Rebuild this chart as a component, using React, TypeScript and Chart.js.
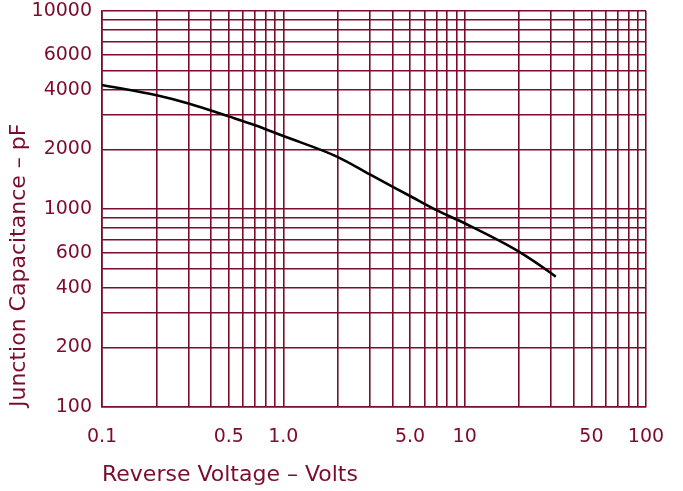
import React, { useEffect, useRef } from "react";
import { Chart, registerables } from "chart.js";

Chart.register(...registerables);

// Reverse voltage (V) and junction capacitance (pF)
const voltage = [0.1, 0.2, 0.3, 0.5, 0.7, 1, 2, 3, 5, 7, 10, 20, 30, 31.8];
const capacitance = [4229, 3752, 3411, 2936, 2650, 2337, 1829, 1494, 1163, 986, 847, 608, 474, 455];

const xGridValues = [
  0.1, 0.2, 0.3, 0.4, 0.5, 0.6, 0.7, 0.8, 0.9,
  1, 2, 3, 4, 5, 6, 7, 8, 9,
  10, 20, 30, 40, 50, 60, 70, 80, 90, 100,
];
const yGridValues = [
  100, 200, 300, 400, 500, 600, 700, 800, 900,
  1000, 2000, 3000, 4000, 5000, 6000, 7000, 8000, 9000, 10000,
];
const xTickLabels: Record<string, string> = {
  "0.1": "0.1", "0.5": "0.5", "1": "1.0", "5": "5.0", "10": "10", "50": "50", "100": "100",
};
const yTickLabels = [100, 200, 400, 600, 1000, 2000, 4000, 6000, 10000];

const MAROON = "#7b0c2c";
const FONT = "'DejaVu Sans', 'Liberation Sans', sans-serif";

export default function App() {
  const ref = useRef<HTMLCanvasElement | null>(null);

  useEffect(() => {
    document.body.style.margin = "0";
    const canvas = ref.current;
    if (!canvas) return;
    const chart = new Chart(canvas, {
      type: "line",
      data: {
        datasets: [
          {
            data: voltage.map((v, i) => ({ x: v, y: capacitance[i] })),
            borderColor: "#000000",
            borderWidth: 2.6,
            pointRadius: 0,
            tension: 0.4,
            cubicInterpolationMode: "monotone",
            fill: false,
          },
        ],
      },
      options: {
        animation: false,
        responsive: false,
        devicePixelRatio: 1,
        layout: { padding: { top: 11, right: 37, left: 0, bottom: 0 } },
        plugins: { legend: { display: false }, tooltip: { enabled: false } },
        scales: {
          x: {
            type: "logarithmic",
            min: 0.1,
            max: 100,
            afterBuildTicks: (s: any) => {
              s.ticks = xGridValues.map((v) => ({ value: v }));
            },
            afterFit: (s: any) => {
              s.height = 84;
              s.paddingLeft = 0;
              s.paddingRight = 0;
            },
            ticks: {
              autoSkip: false,
              maxRotation: 0,
              padding: 19,
              color: MAROON,
              font: { family: FONT, size: 19 },
              callback: (v: any) => xTickLabels[String(Number(v))] ?? "",
            },
            grid: { color: MAROON, lineWidth: 1.6, drawTicks: false },
            border: { color: MAROON, width: 1.6 },
            title: {
              display: true,
              text: "Reverse Voltage – Volts",
              align: "start",
              color: MAROON,
              font: { family: FONT, size: 22 },
              padding: { top: 6, bottom: 3 },
            },
          },
          y: {
            type: "logarithmic",
            min: 100,
            max: 10000,
            afterBuildTicks: (s: any) => {
              s.ticks = yGridValues.map((v) => ({ value: v }));
            },
            afterFit: (s: any) => {
              s.width = 102;
              s.paddingTop = 0;
              s.paddingBottom = 0;
            },
            ticks: {
              autoSkip: false,
              padding: 10,
              color: MAROON,
              font: { family: FONT, size: 19 },
              callback: (v: any) => (yTickLabels.includes(Number(v)) ? String(Number(v)) : ""),
            },
            grid: { color: MAROON, lineWidth: 1.6, drawTicks: false },
            border: { color: MAROON, width: 1.6 },
            title: {
              display: true,
              text: "Junction Capacitance – pF",
              align: "start",
              color: MAROON,
              font: { family: FONT, size: 22 },
              padding: { top: 6, bottom: 4 },
            },
          },
        },
      },
    } as any);
    return () => chart.destroy();
  }, []);

  return (
    <div style={{ width: 683, height: 491 }}>
      <canvas ref={ref} width={683} height={491} style={{ display: "block" }} />
    </div>
  );
}
